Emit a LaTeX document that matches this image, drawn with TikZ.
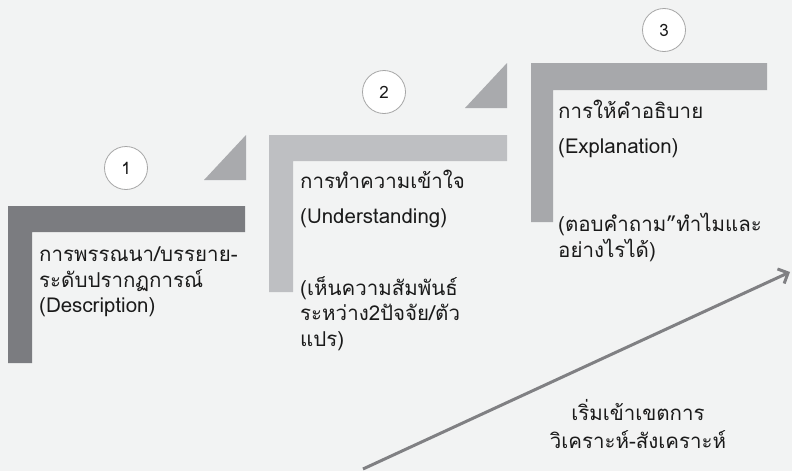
\documentclass[tikz,border=0pt]{standalone}
\usepackage{fontspec}
\setmainfont[Script=Thai]{Loma}
\usetikzlibrary{arrows.meta}
\definecolor{bgc}{HTML}{F2F3F3}
\definecolor{stepdark}{HTML}{7B7C80}
\definecolor{steplight}{HTML}{BEBFC2}
\definecolor{stepmid}{HTML}{A7A8AB}
\definecolor{trigray}{HTML}{A9AAAD}
\definecolor{arrowgray}{HTML}{808083}
\definecolor{txt}{HTML}{1A1A1A}
\tikzset{
  numcirc/.style={circle, draw=gray!70, line width=0.8pt, fill=white, minimum size=43pt, inner sep=0pt, font=\fontsize{17}{20}\selectfont, text=txt},
  titletext/.style={anchor=north west, align=left, inner sep=0pt, text=txt, font=\fontsize{20.5}{34.5}\selectfont},
  bodytext/.style={anchor=north west, align=left, inner sep=0pt, text=txt, font=\fontsize{20.5}{25.5}\selectfont},
  tri/.style={fill=trigray, draw=none}
}
\begin{document}
\begin{tikzpicture}[x=1pt,y=-1pt]
\fill[bgc] (0,0) rectangle (792,471);
\useasboundingbox (0,0) rectangle (792,471);

% Step 1
\fill[stepdark] (8,206) -- (245,206) -- (245,232) -- (32,232) -- (32,363) -- (8,363) -- cycle;
\fill[tri] (204,180) -- (246,135) -- (246,180) -- cycle;
\node[numcirc] (c1) at (126,168) {1};
\node[bodytext] (t1) at (39,247) {การพรรณนา/บรรยาย-\\ระดับปรากฏการณ์\\(Description)};

% Step 2
\fill[steplight] (269,135) -- (507,135) -- (507,161) -- (293,161) -- (293,292) -- (269,292) -- cycle;
\fill[tri] (465,108) -- (507,63) -- (507,108) -- cycle;
\node[numcirc] (c2) at (384,92) {2};
\node[titletext] (t2) at (300,170) {การทำความเข้าใจ\\(Understanding)};
\node[bodytext] (d2) at (300,276) {(เห็นความสัมพันธ์\\ระหว่าง2ปัจจัย/ตัว\\แปร)};

% Step 3
\fill[stepmid] (531,63) -- (767,63) -- (767,90) -- (553,90) -- (553,222) -- (531,222) -- cycle;
\node[numcirc] (c3) at (664,30) {3};
\node[titletext] (t3) at (558,100) {การให้คำอธิบาย\\(Explanation)};
\node[bodytext] (d3) at (558,213) {(ตอบคำถาม”ทำไมและ\\อย่างไรได้)};

% Arrow
\coordinate (as) at (363,469);
\coordinate (ae) at (790,272);
\draw[arrowgray, line width=3pt, -{Straight Barb[length=8pt,width=16pt,line width=3pt]}] (as) -- (ae);
\node[align=center, inner sep=0pt, text=txt, font=\fontsize{20.5}{28}\selectfont] (lab) at (638,424) {เริ่มเข้าเขตการ\\วิเคราะห์-สังเคราะห์};
\end{tikzpicture}
\end{document}
